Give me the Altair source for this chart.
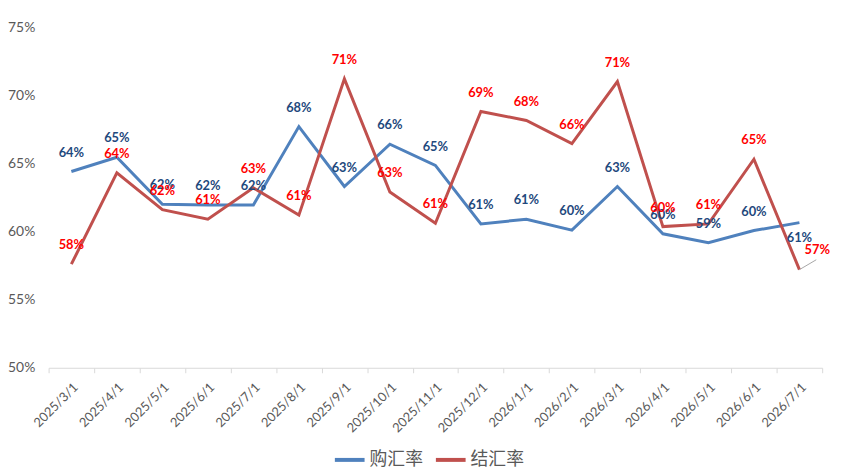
import altair as alt
import pandas as pd

dates = ["2025/3/1", "2025/4/1", "2025/5/1", "2025/6/1", "2025/7/1", "2025/8/1",
         "2025/9/1", "2025/10/1", "2025/11/1", "2025/12/1", "2026/1/1", "2026/2/1",
         "2026/3/1", "2026/4/1", "2026/5/1", "2026/6/1", "2026/7/1"]
buy_rate = [0.644, 0.6545, 0.620, 0.6194, 0.6194, 0.677, 0.633, 0.664, 0.6485,
            0.6056, 0.609, 0.601, 0.633, 0.5983, 0.5918, 0.6007, 0.6065]
sell_rate = [0.576, 0.643, 0.616, 0.609, 0.632, 0.612, 0.712, 0.629, 0.606,
             0.688, 0.6815, 0.6645, 0.710, 0.6036, 0.6056, 0.653, 0.572]
series_names = ["购汇率", "结汇率"]
series_colors = ["#4F81BD", "#C0504D"]
label_colors = ["#1F497D", "#FF0000"]

rows = []
for d, b, s in zip(dates, buy_rate, sell_rate):
    rows.append({"date": d, "series": series_names[0], "value": b})
    rows.append({"date": d, "series": series_names[1], "value": s})
df = pd.DataFrame(rows)

last = dates[-1]

x = alt.X("date:N", sort=dates, title=None,
          scale=alt.Scale(paddingInner=0, paddingOuter=0),
          axis=alt.Axis(labelAngle=-45, labelFontSize=13, labelColor="#595959",
                        labelFont="Lato", domainColor="#D9D9D9", tickColor="#D9D9D9",
                        tickBand="extent", tickSize=5, labelPadding=8, grid=False))
y = alt.Y("value:Q", title=None,
          scale=alt.Scale(domain=[0.5, 0.75], nice=False, zero=False),
          axis=alt.Axis(values=[0.5, 0.55, 0.6, 0.65, 0.7, 0.75], format=".0%",
                        labelFontSize=14, labelColor="#595959", labelFont="Lato",
                        domain=False, ticks=False, grid=False, labelPadding=14))

color = alt.Color("series:N", title=None,
                  scale=alt.Scale(domain=series_names, range=series_colors),
                  legend=alt.Legend(orient="none", direction="horizontal",
                                    legendX=287, legendY=420,
                                    symbolType="stroke", symbolStrokeWidth=4,
                                    symbolSize=900, labelFontSize=18,
                                    labelColor="#595959", labelFont="Noto Sans CJK SC",
                                    labelOffset=3, columnPadding=5))

base = alt.Chart(df)

lines = base.mark_line(strokeWidth=3).encode(x=x, y=y, color=color)

def labels(i):
    name = series_names[i]
    return base.transform_filter(
        (alt.datum.series == name) & (alt.datum.date != last)
    ).mark_text(dy=-19, fontSize=13, fontWeight="bold", font="Lato",
                color=label_colors[i], baseline="middle").encode(
        x=x, y=y, text=alt.Text("value:Q", format=".0%"))

blue_last = base.transform_filter(
    (alt.datum.series == series_names[0]) & (alt.datum.date == last)
).mark_text(dy=16, fontSize=13, fontWeight="bold", font="Lato",
            color=label_colors[0], baseline="middle").encode(
    x=x, y=y, text=alt.Text("value:Q", format=".0%"))

red_last = base.transform_filter(
    (alt.datum.series == series_names[1]) & (alt.datum.date == last)
).mark_text(dx=18, dy=-20, fontSize=13, fontWeight="bold", font="Lato",
            color=label_colors[1], baseline="middle").encode(
    x=x, y=y, text=alt.Text("value:Q", format=".0%"))

leader = base.transform_filter(
    (alt.datum.series == series_names[1]) & (alt.datum.date == last)
).mark_rule(color="#A6A6A6", strokeWidth=1, x2Offset=17, y2Offset=-10).encode(
    x=x, y=y, x2="date:N", y2="value:Q")

chart = alt.layer(lines, leader, labels(0), labels(1), blue_last, red_last).properties(
    width=781, height=344,
    autosize=alt.AutoSizeParams(type="none"),
    padding={"left": 41, "top": 17, "right": 18, "bottom": 106},
    background="white",
).configure_view(stroke=None)

chart.save("out.html", embed_options={"renderer": "svg", "actions": False})
